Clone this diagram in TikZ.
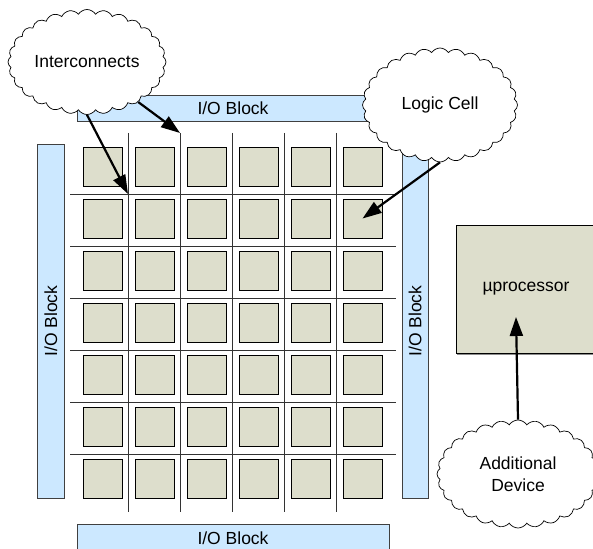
\documentclass[tikz,border=0pt]{standalone}
\usepackage{fontspec}
\setmainfont{Liberation Sans}
\usetikzlibrary{shapes.symbols,arrows.meta}
\definecolor{ioblue}{RGB}{204,232,255}
\definecolor{cellfill}{RGB}{221,222,204}
\begin{document}
\begin{tikzpicture}[x=1pt,y=-1pt,
  font=\fontsize{17.5}{22}\selectfont,
  ioblock/.style={draw=black!75, fill=ioblue, line width=0.9pt, inner sep=0pt},
  cell/.style={draw=black, fill=cellfill, line width=0.9pt, minimum width=39pt, minimum height=39pt, inner sep=0pt},
  gridline/.style={draw=black!80, line width=0.8pt},
  callout/.style={cloud, draw=black, fill=white, line width=0.7pt, cloud puffs=28, cloud puff arc=115, cloud ignores aspect, inner sep=0pt, align=center},
  pointer/.style={line width=2.2pt, -{Triangle[length=19pt,width=13pt]}}]
\useasboundingbox (0,0) rectangle (593,548);
\clip (0,0) rectangle (593,548);
% grid lines
\foreach \k in {0,...,4} {
  \coordinate (vt\k) at ({128+52*\k},133);
  \coordinate (vb\k) at ({128+52*\k},512);
  \draw[gridline] (vt\k) -- (vb\k);
}
\foreach \k in {0,...,5} {
  \coordinate (hl\k) at (70,{194+52*\k});
  \coordinate (hr\k) at (396,{194+52*\k});
  \draw[gridline] (hl\k) -- (hr\k);
}
% logic cells
\foreach \i in {1,...,7} {
  \foreach \j in {1,...,6} {
    \node[cell] (c-\i-\j) at ({102.5+52*(\j-1)},{166.5+52*(\i-1)}) {};
  }
}
% I/O blocks
\node[ioblock, minimum width=312pt, minimum height=26.5pt] (iotop) at (233,108.3) {I/O Block};
\node[ioblock, minimum width=312pt, minimum height=28pt] (iobot) at (233,538) {I/O Block};
\node[ioblock, rotate=90, minimum width=354pt, minimum height=26.5pt] (ioleft) at (50.75,321) {I/O Block};
\node[ioblock, rotate=90, minimum width=354pt, minimum height=26.5pt] (ioright) at (415.2,321) {I/O Block};
% microprocessor
\node[cell, minimum width=140pt, minimum height=128pt, draw=none, fill=black!45] at (527,290.5) {};
\node[cell, minimum width=140pt, minimum height=128pt] (mp) at (526,289) {µprocessor};
\coordinate (mpin) at (516,317);
% clouds
\node[callout, minimum width=158pt, minimum height=105pt] (ic) at (87,62) {Interconnects};
\node[callout, minimum width=155pt, minimum height=114pt] (lc) at (440,105) {Logic Cell};
\node[callout, minimum width=162pt, minimum height=108pt] (ad) at (518,474) {Additional\\Device};
% arrows
\draw[pointer] (ic.south) -- (vt0 |- hl0);
\draw[pointer] (ic.-38) -- (vt1);
\draw[pointer] (lc.south) -- (c-2-6.center);
\draw[pointer] (ad.north) -- (mpin);
\end{tikzpicture}
\end{document}
